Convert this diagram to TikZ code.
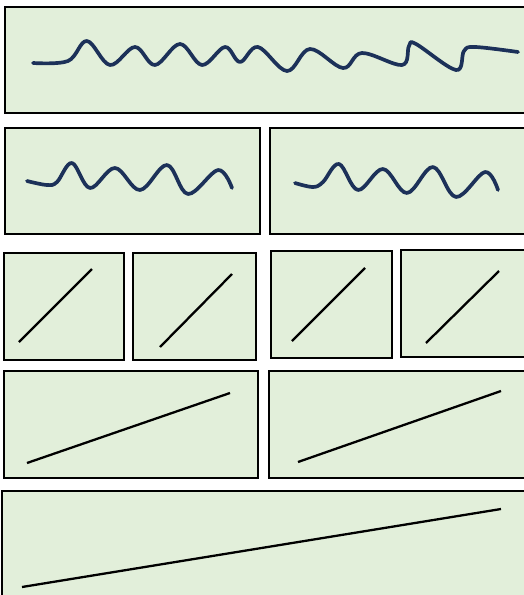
\documentclass[tikz,border=0pt]{standalone}
\usepackage{tikz}
\usepackage{xcolor}
\definecolor{panelgreen}{HTML}{E2EFDA}
\definecolor{wavenavy}{HTML}{1C3159}

\begin{document}
\begin{tikzpicture}[x=0.02cm, y=-0.02cm,
    panel/.style={fill=panelgreen, draw=black, line width=1.5pt},
    wave/.style={draw=wavenavy, line width=2.1pt, line cap=round, line join=round},
    ramp/.style={draw=black, line width=1.3pt}]
  \fill[white] (0,0) rectangle (524,595);
  \clip (0,0) rectangle (524,595);

  % === ROW 1: one long panel, irregular wave ===
  \draw[panel] (5,7) rectangle (540,113);
  \draw[wave] plot[smooth, tension=0.6] coordinates {
    (33,63) (68,61) (87,41) (110,65) (135,47) (155,65) (180,44)
    (202,65) (225,47) (240,62) (258,47) (287,71) (310,49) (343,68)
    (362,53) (402,65) (409,46) (416,44) (456,70) (464,51) (475,47) (518,52)};

  % === ROW 2: two panels, regular waves ===
  \draw[panel] (5,128) rectangle (260,234);
  \draw[panel] (270,128) rectangle (540,234);
  \draw[wave] plot[smooth, tension=0.6] coordinates {
    (27,181) (47,185) (57,182) (72,163) (90,188) (115,168) (140,190)
    (167,165) (188,194) (218,170) (232,188)};
  \draw[wave] plot[smooth, tension=0.6] coordinates {
    (295,183) (313,187) (323,182) (339,164) (358,190) (383,169) (407,193)
    (433,167) (456,197) (485,172) (498,190)};

  % === ROW 3: four small panels, steep lines ===
  \foreach \xa/\ya/\xb/\yb/\pa/\qa/\pb/\qb in {
      4/253/124/360/19/342/92/269,
      133/253/256/360/160/347/232/274,
      271/251/392/358/292/341/365/268,
      401/250/540/357/426/343/499/271} {
    \draw[panel] (\xa,\ya) rectangle (\xb,\yb);
    \draw[ramp] (\pa,\qa) -- (\pb,\qb);
  }

  % === ROW 4: two panels, shallow lines ===
  \draw[panel] (4,371) rectangle (258,478);
  \draw[panel] (269,371) rectangle (540,478);
  \draw[ramp] (27,463) -- (230,393);
  \draw[ramp] (298,462) -- (501,391);

  % === ROW 5: wide panel, flattest line ===
  \draw[panel] (2,491) rectangle (540,620);
  \draw[ramp] (22,587) -- (501,509);
\end{tikzpicture}
\end{document}
